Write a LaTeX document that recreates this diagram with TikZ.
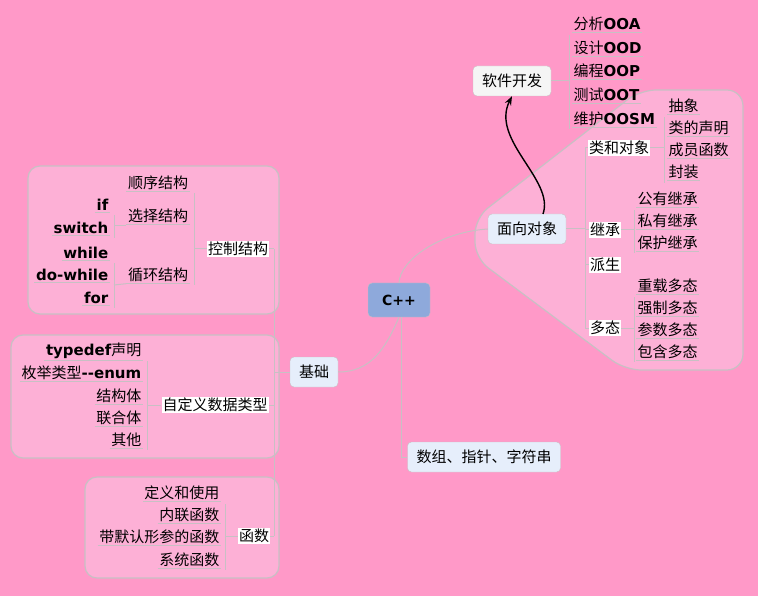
\documentclass[tikz,border=0pt]{standalone}
\usepackage{fontspec}
\setmainfont{Noto Sans CJK SC}
\newfontfamily\enbf{DejaVu Sans Bold}
\usetikzlibrary{arrows.meta}
\definecolor{bgpink}{HTML}{FF99C8}
\definecolor{boxpink}{HTML}{FDB0D6}
\definecolor{edgegray}{HTML}{C8C0C4}
\definecolor{topicblue}{HTML}{E6EEFB}
\definecolor{rootblue}{HTML}{8EA9DB}
\tikzset{
  topic/.style={draw=edgegray, rounded corners=4pt, fill=topicblue, minimum height=30pt, inner xsep=9pt, font=\fontsize{15}{17}\selectfont},
  group/.style={draw=edgegray, line width=1.2pt, fill=boxpink, rounded corners=12pt},
  sub/.style={fill=white, inner sep=1pt, font=\fontsize{15}{17}\selectfont},
  leaf/.style={inner sep=1.5pt, font=\fontsize{15}{17}\selectfont},
  link/.style={draw=edgegray, line width=1pt},
}
\begin{document}
\begin{tikzpicture}[x=1pt, y=-1pt]
\fill[bgpink] (0,0) rectangle (758,596);
\useasboundingbox (0,0) rectangle (758,596);

% group boxes
\draw[group] (28,166) rectangle (279,314);
\draw[group] (11,335) rectangle (279,458);
\draw[group] (85,477) rectangle (279,578);
\draw[group, rounded corners=16pt] (640,90) -- (743,90) -- (743,370) -- (625,370) -- (475,258) -- (475,218) -- cycle;

% main topics
\node[topic, fill=rootblue, minimum width=62pt, minimum height=34pt, font=\enbf\fontsize{14}{16}\selectfont] (cpp) at (399,300) {C++};
\node[topic] (basis) at (314,372) {基础};
\node[topic] (array) at (484,457) {数组、指针、字符串};
\node[topic] (oo) at (527,229) {面向对象};
\node[topic, fill=gray!8] (soft) at (512,81) {软件开发};

\draw[link] (cpp.north) .. controls (400,260) and (440,232) .. (oo.west);
\draw[link] (cpp.south) .. controls (385,350) and (370,372) .. (basis.east);
\draw[link] (401,317) |- (array.west);
\draw[-{Stealth[length=9pt]}, line width=1.4pt] (543,214) .. controls (555,180) and (490,140) .. (soft.south);

% basis branches
\node[sub] (ctrl) at (238,249) {控制结构};
\node[sub] (udt) at (215,405) {自定义数据类型};
\node[sub] (func) at (254,536) {函数};
\draw[link] (basis.west) -- (274,372);
\draw[link] (274,249) -- (274,536);
\foreach \n in {ctrl,udt,func} \draw[link] (\n.east) -- (274,0 |- \n.east);

% control structures
\node[leaf] (seq) at (158,183) {顺序结构};
\node[leaf] (sel) at (158,216) {选择结构};
\node[leaf] (loop) at (158,275) {循环结构};
\node[leaf, anchor=east] (if) at (110,205) {\enbf if};
\node[leaf, anchor=east] (switch) at (110,228) {\enbf switch};
\node[leaf, anchor=east] (while) at (110,253) {\enbf while};
\node[leaf, anchor=east] (dowhile) at (110,275) {\enbf do-while};
\node[leaf, anchor=east] (for) at (110,298) {\enbf for};
\draw[link] (194,193) -- (194,285);
\draw[link] (194,249) -- (ctrl.west);
\draw[link] (114,215) -- (114,238);
\draw[link] (114,226) -- (sel.west |- 0,226);
\draw[link] (114,263) -- (114,308);
\draw[link] (114,285) -- (loop.south west);

% user defined types
\node[leaf, anchor=east] (tdef) at (143,351) {{\enbf typedef}声明};
\node[leaf, anchor=east] (enum) at (143,373) {枚举类型{\enbf --enum}};
\node[leaf, anchor=east] (struct) at (143,396) {结构体};
\node[leaf, anchor=east] (union) at (143,418) {联合体};
\node[leaf, anchor=east] (other) at (143,440) {其他};
\draw[link] (147,361) -- (147,450);
\draw[link] (147,405) -- (udt.west);

% functions
\node[leaf, anchor=east] (def) at (221,493) {定义和使用};
\node[leaf, anchor=east] (inl) at (221,515) {内联函数};
\node[leaf, anchor=east] (dflt) at (221,537) {带默认形参的函数};
\node[leaf, anchor=east] (sys) at (221,560) {系统函数};
\draw[link] (225,504) -- (225,570);
\draw[link] (225,536) -- (func.west);

% underlines of leaves
\foreach \n in {seq,sel,loop,if,switch,while,dowhile,for,tdef,enum,struct,union,other,def,inl,dflt,sys}
  \draw[edgegray, line width=0.6pt] (\n.south west) -- (\n.south east);

% software development
\node[leaf, anchor=west] (ooa) at (572,24) {分析{\enbf OOA}};
\node[leaf, anchor=west] (ood) at (572,48) {设计{\enbf OOD}};
\node[leaf, anchor=west] (oop) at (572,71) {编程{\enbf OOP}};
\node[leaf, anchor=west] (oot) at (572,95) {测试{\enbf OOT}};
\node[leaf, anchor=west] (oosm) at (572,119) {维护{\enbf OOSM}};
\draw[link] (soft.east) -- (569,81);
\draw[link] (569,35) -- (569,129);
\foreach \n in {ooa,ood,oop,oot,oosm}
  \draw[edgegray, line width=0.6pt] (\n.south west) -- (\n.south east);

% object oriented
\node[sub] (cls) at (619,148) {类和对象};
\node[sub] (inh) at (605,230) {继承};
\node[sub] (der) at (605,265) {派生};
\node[sub] (poly) at (605,328) {多态};
\draw[link] (oo.east) -- (585,229);
\draw[link] (585,148) -- (585,328);
\foreach \n in {cls,inh,der,poly} \draw[link] (585,0 |- \n.west) -- (\n.west);

\node[leaf, anchor=west] (abs) at (667,106) {抽象};
\node[leaf, anchor=west] (decl) at (667,128) {类的声明};
\node[leaf, anchor=west] (memb) at (667,150) {成员函数};
\node[leaf, anchor=west] (enc) at (667,172) {封装};
\draw[link] (664,117) -- (664,183);
\draw[link] (cls.east) -- (664,148);

\node[leaf, anchor=west] (pub) at (636,199) {公有继承};
\node[leaf, anchor=west] (priv) at (636,221) {私有继承};
\node[leaf, anchor=west] (prot) at (636,243) {保护继承};
\draw[link] (634,210) -- (634,253);
\draw[link] (inh.east) -- (634,230);

\node[leaf, anchor=west] (ovl) at (636,286) {重载多态};
\node[leaf, anchor=west] (coe) at (636,308) {强制多态};
\node[leaf, anchor=west] (par) at (636,330) {参数多态};
\node[leaf, anchor=west] (inc) at (636,352) {包含多态};
\draw[link] (634,297) -- (634,362);
\draw[link] (poly.east) -- (634,328);

\foreach \n in {abs,decl,memb,enc,pub,priv,prot,ovl,coe,par,inc}
  \draw[edgegray, line width=0.6pt] (\n.south west) -- (\n.south east);
\end{tikzpicture}
\end{document}
